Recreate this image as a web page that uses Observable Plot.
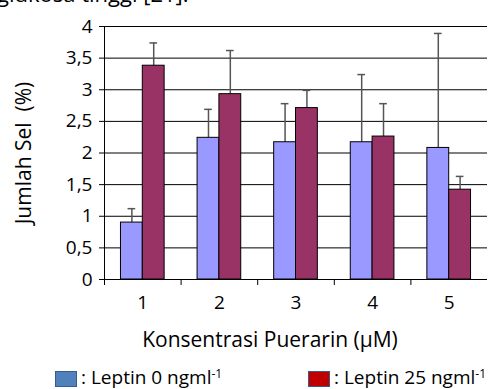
<!DOCTYPE html>
<html><head><meta charset="utf-8">
<script src="https://cdn.jsdelivr.net/npm/d3@7"></script>
<script src="https://cdn.jsdelivr.net/npm/@observablehq/plot@0.6"></script>
<style>
body{margin:0;width:489px;height:389px;overflow:hidden;position:relative;background:#fff;font-family:"Open Sans",sans-serif;color:#000;}
#top{position:absolute;left:-3px;top:-17px;font-size:22px;line-height:20px;white-space:nowrap;}
#chart{position:absolute;left:0;top:0;}
.leg{position:absolute;top:366px;font-size:19px;line-height:22px;display:flex;align-items:center;white-space:nowrap;}
.leg sup{font-size:12px;position:relative;top:-3px;}
.sw{display:inline-block;width:20px;height:14px;border:1px solid #385d8a;margin-right:4px;position:relative;top:2px;}
</style></head><body>
<div id="top">glukosa tinggi [21].</div>
<div id="chart"></div>
<div class="leg" style="left:55px"><span class="sw" style="background:#4f81bd"></span>: Leptin 0 ngml<sup>-1</sup></div>
<div class="leg" style="left:308px"><span class="sw" style="background:#c00000"></span>: Leptin 25 ngml<sup>-1</sup></div>
<script>
const categories = [1, 2, 3, 4, 5];
const xTickLabels = ["1", "2", "3", "4", "5"];
const series = ["Leptin 0 ngml-1", "Leptin 25 ngml-1"];
const leptin0 = [0.90, 2.24, 2.17, 2.17, 2.08];
const leptin0Err = [0.22, 0.45, 0.61, 1.07, 1.81];
const leptin25 = [3.38, 2.93, 2.71, 2.26, 1.42];
const leptin25Err = [0.36, 0.69, 0.28, 0.52, 0.21];
const yTicks = [0, 0.5, 1, 1.5, 2, 2.5, 3, 3.5, 4];
const xTitle = "Konsentrasi Puerarin (µM)";
const yTitle = "Jumlah Sel\u00a0 (%)";

const data = categories.flatMap((c, i) => [
  {cat: c, s: 0, v: leptin0[i], e: leptin0Err[i]},
  {cat: c, s: 1, v: leptin25[i], e: leptin25Err[i]}
]);
const BW = 0.285;   // bar width, in category units
const CAP = 0.05;   // half cap width, in category units
const bx1 = d => d.cat - BW + d.s * BW;
const bx2 = d => bx1(d) + BW;
const bc = d => bx1(d) + BW / 2;
const boundaries = categories.map(c => c - 0.5);

const chart = Plot.plot({
  width: 489, height: 362,
  marginTop: 26, marginBottom: 83, marginLeft: 104, marginRight: 2,
  x: {type: "linear", domain: [0.5, 5.5]},
  y: {domain: [0, 4]},
  color: {domain: series, range: ["#9999ff", "#993366"]},
  style: {fontFamily: "'Open Sans', sans-serif", fontSize: "19px", color: "#000", background: "transparent"},
  marks: [
    Plot.ruleY(yTicks.slice(1), {stroke: "#000", strokeWidth: 1}),
    Plot.ruleX(data, {x: bc, y1: "v", y2: d => d.v + d.e, stroke: "#555", strokeWidth: 1.5}),
    Plot.ruleY(data, {y: d => d.v + d.e, x1: d => bc(d) - CAP, x2: d => bc(d) + CAP, stroke: "#555", strokeWidth: 1.5}),
    Plot.rectY(data, {x1: bx1, x2: bx2, y1: 0, y2: "v", fill: d => series[d.s], stroke: "#000", strokeWidth: 1}),
    Plot.ruleX([0.5], {stroke: "#000"}),
    Plot.ruleY([0], {stroke: "#000"}),
    Plot.axisY({ticks: yTicks, tickSize: 5, tickPadding: 7, tickFormat: d => String(d).replace(".", ","), label: null, stroke: "#000", fontSize: 19}),
    Plot.axisX({ticks: categories, tickSize: 0, tickPadding: 16, tickFormat: c => xTickLabels[c - 1], label: null, fontSize: 19}),
    Plot.axisX({ticks: boundaries, tickSize: 6, tickFormat: () => "", label: null, stroke: "#000"}),
    Plot.text([xTitle], {frameAnchor: "bottom", dx: -26, dy: 61, fontSize: 21, lineAnchor: "middle"}),
    Plot.text([yTitle], {frameAnchor: "left", dx: -80, rotate: -90, fontSize: 21, textAnchor: "middle", lineAnchor: "middle"})
  ]
});
document.getElementById("chart").appendChild(chart);
</script>
</body></html>
